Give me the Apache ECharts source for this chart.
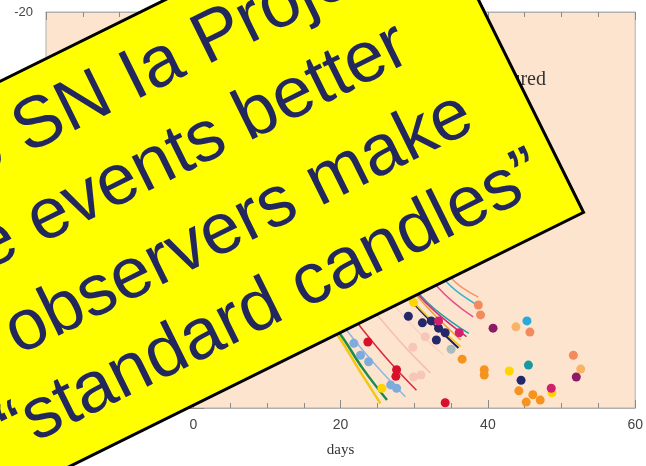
<!DOCTYPE html>
<html>
<head>
<meta charset="utf-8">
<script src="https://cdn.jsdelivr.net/npm/echarts@6/dist/echarts.min.js"></script>
<style>
  html, body { margin: 0; padding: 0; background: #fff; }
  #main { width: 646px; height: 466px; }
</style>
</head>
<body>
<div id="main"></div>
<script>
// light-curve fits: [day, magnitude]
var fitYellowA = [[5, -17.3], [19.6, -15.1], [22.5, -14.58], [25.4, -14.07]];
var fitGreen = [[5, -17.35], [20.0, -15.11], [23, -14.6], [26.3, -14.12]];
var fitLightBlue = [[6, -17.4], [21.1, -15.14], [25, -14.62], [28.8, -14.17]];
var fitRed = [[8, -17.3], [22.7, -15.23], [26.5, -14.72], [30.3, -14.27]];
var fitPinkA = [[10, -17.4], [25.2, -15.38], [28.7, -14.93], [32.2, -14.53]];
var fitPinkB = [[12, -17.5], [27.2, -15.56], [30.6, -15.15], [34, -14.8]];
var fitNavy = [[14, -17.7], [29.5, -15.64], [36, -14.91]];
var fitYellowB = [[14.3, -17.7], [29.8, -15.62], [36.3, -14.93]];
var fitOrange = [[15, -17.8], [30.6, -15.67], [36.3, -15.03]];
var fitMagenta = [[15, -17.9], [30.6, -15.71], [37.1, -15.08]];
var fitTeal = [[15.5, -17.9], [31, -15.69], [37.4, -15.13]];
var fitPink = [[18, -17.9], [33.3, -15.82], [38, -15.38]];
var fitCyan = [[19, -18.0], [34.4, -15.91], [39, -15.53]];
var fitSalmon = [[20, -18.0], [35, -15.97], [38.7, -15.68]];

// measured points: [day, magnitude]
var ptsLightBlue = [[21.8, -14.98], [22.7, -14.8], [23.8, -14.7], [26.8, -14.35], [27.6, -14.3]];
var ptsYellow = [[25.6, -14.3], [29.9, -15.6], [42.9, -14.56], [48.7, -14.23]];
var ptsRed = [[23.7, -15.0], [27.6, -14.58], [27.5, -14.48], [34.2, -14.08]];
var ptsPink = [[29.8, -14.92], [31.5, -15.08], [29.9, -14.47], [30.9, -14.5]];
var ptsNavy = [[29.2, -15.39], [31.1, -15.29], [32.3, -15.32], [33.3, -15.21], [34.2, -15.14], [33.0, -15.03], [44.5, -14.42]];
var ptsMagenta = [[33.3, -15.32], [36.1, -15.14], [48.6, -14.3]];
var ptsGray = [[35.0, -14.89]];
var ptsSalmon = [[38.7, -15.56], [39.0, -15.41], [45.7, -15.15], [51.6, -14.8]];
var ptsPurple = [[40.7, -15.21], [52.0, -14.47]];
var ptsLightOrange = [[43.8, -15.23], [52.6, -14.59]];
var ptsCyan = [[45.3, -15.32]];
var ptsTeal = [[45.5, -14.65]];
var ptsOrange = [[36.5, -14.74], [39.5, -14.58], [39.5, -14.5], [44.2, -14.26], [45.2, -14.09], [46.1, -14.2], [47.1, -14.12]];

var xTicks = { min: -20, max: 60, interval: 20 };
var yTicks = { min: -20, max: -14, interval: 2 };

var boxLines = [
  'Calan/Tololo SN Ia Project',
  'Calibrate the events better',
  'observers make',
  '\u201cstandard candles\u201d'
];

function fit(data, color, width) {
  return {
    type: 'line', data: data, smooth: 0.4, symbol: 'none', z: 2,
    lineStyle: { color: color, width: width || 1.5 }
  };
}
function dots(data, color) {
  return {
    type: 'scatter', data: data, symbolSize: 9, z: 3,
    itemStyle: { color: color, opacity: 1 }
  };
}

var tickColor = '#8a8a8a';
function xAxis(pos, labels) {
  return {
    type: 'value', position: pos, min: xTicks.min, max: xTicks.max, interval: xTicks.interval,
    name: labels ? 'days' : '', nameLocation: 'middle', nameGap: 35,
    nameTextStyle: { fontFamily: 'Liberation Serif', fontSize: 15, color: '#333' },
    axisLine: { show: true, lineStyle: { color: '#b0b0b0' } },
    axisTick: { show: true, inside: true, length: 8, lineStyle: { color: tickColor } },
    minorTick: { show: true, splitNumber: 4, length: 5, lineStyle: { color: tickColor } },
    axisLabel: { show: labels, margin: 10, color: '#444', fontSize: 14, fontFamily: 'Liberation Sans' },
    splitLine: { show: false }
  };
}
function yAxis(pos, labels) {
  return {
    type: 'value', position: pos, inverse: true, min: yTicks.min, max: yTicks.max, interval: yTicks.interval,
    axisLine: { show: true, lineStyle: { color: '#b0b0b0' } },
    axisTick: { show: true, inside: true, length: 11, lineStyle: { color: tickColor } },
    minorTick: { show: true, splitNumber: 10, length: 5, lineStyle: { color: tickColor } },
    axisLabel: { show: labels, margin: 13, color: '#444', fontSize: 13, fontFamily: 'Liberation Sans' },
    splitLine: { show: false }
  };
}

var theta = 26.3 * Math.PI / 180;
var textFont = '72px "Liberation Sans", Arial, sans-serif';
var navyText = '#22285e';

// x = right end of the line along the box, y = line middle across the box
function boxText(str, x, y) {
  return {
    type: 'text', z: 101, x: x, y: y,
    style: { text: str, font: textFont, fill: navyText, textAlign: 'right', textVerticalAlign: 'middle' }
  };
}

var chart = echarts.init(document.getElementById('main'));
chart.setOption({
  backgroundColor: '#ffffff',
  animation: false,
  grid: {
    left: 46, right: 9, top: 12, bottom: 58, show: true,
    backgroundColor: '#fde4cf', borderColor: '#b0b0b0', borderWidth: 1
  },
  xAxis: [xAxis('bottom', true), xAxis('top', false)],
  yAxis: [yAxis('left', true), yAxis('right', false)],
  series: [
    fit(fitPinkB, '#f9d3c6', 1.5),
    fit(fitPinkA, '#f6bfae', 1.5),
    fit(fitYellowA, '#f2c80f', 2.5),
    fit(fitGreen, '#1b8a4a', 2.5),
    fit(fitLightBlue, '#8db6e2', 1.5),
    fit(fitRed, '#d8283e', 1.5),
    fit(fitOrange, '#f0a030', 1.5),
    fit(fitTeal, '#22a0aa', 1.5),
    fit(fitMagenta, '#d02870', 1.5),
    fit(fitNavy, '#1d2262', 2),
    fit(fitYellowB, '#f2c80f', 1.5),
    fit(fitPink, '#e2508a', 1.5),
    fit(fitCyan, '#30b2d2', 1.5),
    fit(fitSalmon, '#f5936a', 1.5),
    dots(ptsLightBlue, '#7eaadc'),
    dots(ptsYellow, '#ffd400'),
    dots(ptsRed, '#d8102c'),
    dots(ptsPink, '#f8c6b8'),
    dots(ptsNavy, '#23286a'),
    dots(ptsMagenta, '#d3206e'),
    dots(ptsGray, '#a8bcbc'),
    dots(ptsSalmon, '#f28a5e'),
    dots(ptsPurple, '#8c1a66'),
    dots(ptsLightOrange, '#f8b466'),
    dots(ptsCyan, '#26aadc'),
    dots(ptsTeal, '#17999f'),
    dots(ptsOrange, '#f6921e')
  ],
  graphic: [
    {
      type: 'text', z: 50, x: 546, y: 80,
      style: { text: 'as measured', fill: '#333', font: '20px "Liberation Serif", serif', textAlign: 'right', textVerticalAlign: 'middle' }
    },
    {
      type: 'group', x: 0, y: 0, rotation: theta, z: 100,
      children: [
        {
          type: 'rect', z: 100,
          shape: { x: -372, y: 73, width: 801, height: 376 },
          style: { fill: '#ffff00', stroke: '#000', lineWidth: 3 }
        },
        boxText(boxLines[0], 380, 130),
        boxText(boxLines[1], 344, 217),
        boxText(boxLines[2], 371, 307),
        boxText(boxLines[3], 408, 392)
      ]
    }
  ]
});
</script>
</body>
</html>
